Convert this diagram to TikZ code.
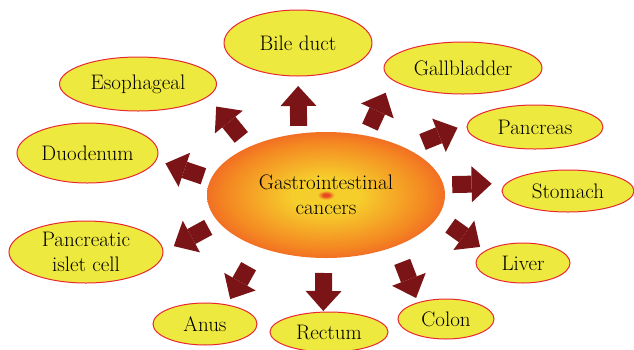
\documentclass[tikz,border=0pt]{standalone}
\usepackage{tikz}
\usetikzlibrary{shapes.geometric, arrows.meta}
\definecolor{organfill}{RGB}{238,233,62}
\definecolor{organline}{RGB}{232,40,50}
\definecolor{arrowred}{RGB}{122,20,22}
\definecolor{gicore}{RGB}{232,72,34}
\definecolor{giyellow}{RGB}{246,206,44}
\definecolor{giorange}{RGB}{244,136,34}
\definecolor{giedge}{RGB}{238,74,36}
\pgfdeclareradialshading{gishade}{\pgfpoint{0bp}{0bp}}{color(0bp)=(gicore); color(0.6bp)=(gicore); color(1.8bp)=(giyellow); color(7bp)=(giyellow); color(21bp)=(giorange); color(31bp)=(giedge); color(50bp)=(giedge)}
\newcommand{\labelfont}{\fontsize{21}{25}\selectfont}
\tikzset{
  organ/.style={ellipse, draw=organline, fill=organfill, line width=1pt, inner sep=0pt, outer sep=0pt, font=\labelfont, align=center},
  flowarrow/.style={draw=arrowred, line width=17pt, -{Triangle[width=36pt,length=20pt,line width=0pt]}},
}
\begin{document}
\begin{tikzpicture}[x=1pt,y=-1pt]
    \useasboundingbox (0,0) rectangle (634,349);

    % central ellipse
    \node[ellipse, shade, shading=gishade, minimum width=238pt, minimum height=126pt, inner sep=0pt, outer sep=0pt, font=\labelfont, align=center] (gi) at (326,195) {Gastrointestinal\\cancers};

    % organs around it
    \node[organ, minimum width=148pt, minimum height=66pt] (bile) at (298,43) {Bile duct};
    \node[organ, minimum width=157pt, minimum height=54pt] (eso) at (138,84) {Esophageal};
    \node[organ, minimum width=141pt, minimum height=60pt] (duo) at (87.5,153) {Duodenum};
    \node[organ, minimum width=158pt, minimum height=52pt] (gall) at (463,68) {Gallbladder};
    \node[organ, minimum width=136pt, minimum height=44pt] (panc) at (535,127) {Pancreas};
    \node[organ, minimum width=132pt, minimum height=42pt] (stom) at (568,191) {Stomach};
    \node[organ, minimum width=154pt, minimum height=62pt] (islet) at (86,252) {Pancreatic\\islet cell};
    \node[organ, minimum width=94pt, minimum height=40pt] (liver) at (523,263) {Liver};
    \node[organ, minimum width=104pt, minimum height=42pt] (anus) at (205,324) {Anus};
    \node[organ, minimum width=118pt, minimum height=40pt] (rect) at (329,332) {Rectum};
    \node[organ, minimum width=96pt, minimum height=40pt] (colon) at (446,319) {Colon};

    % block arrows from the centre outwards
    \foreach \gianchor/\organ/\organchor/\tail/\head in {
        114/bile/270/7.8pt/10pt, 148.8/eso/-10.5/12.3pt/13.2pt,
        172.4/duo/-6.5/8pt/10pt, 56.9/gall/189.5/9.4pt/14.8pt,
        30.5/panc/177.1/17.4pt/11.2pt, 5.4/stom/173.6/8.8pt/14.8pt,
        -11.3/liver/162.1/15.4pt/6.8pt, -36.2/colon/150.1/17.1pt/5.1pt,
        -92.7/rect/106.8/15pt/1.1pt, -142.5/anus/41.2/21.8pt/6.7pt,
        -166.1/islet/0.9/11.5pt/12.3pt} {
        \draw[flowarrow, shorten <=\tail, shorten >=\head] (gi.\gianchor) -- (\organ.\organchor);
    }
\end{tikzpicture}
\end{document}
